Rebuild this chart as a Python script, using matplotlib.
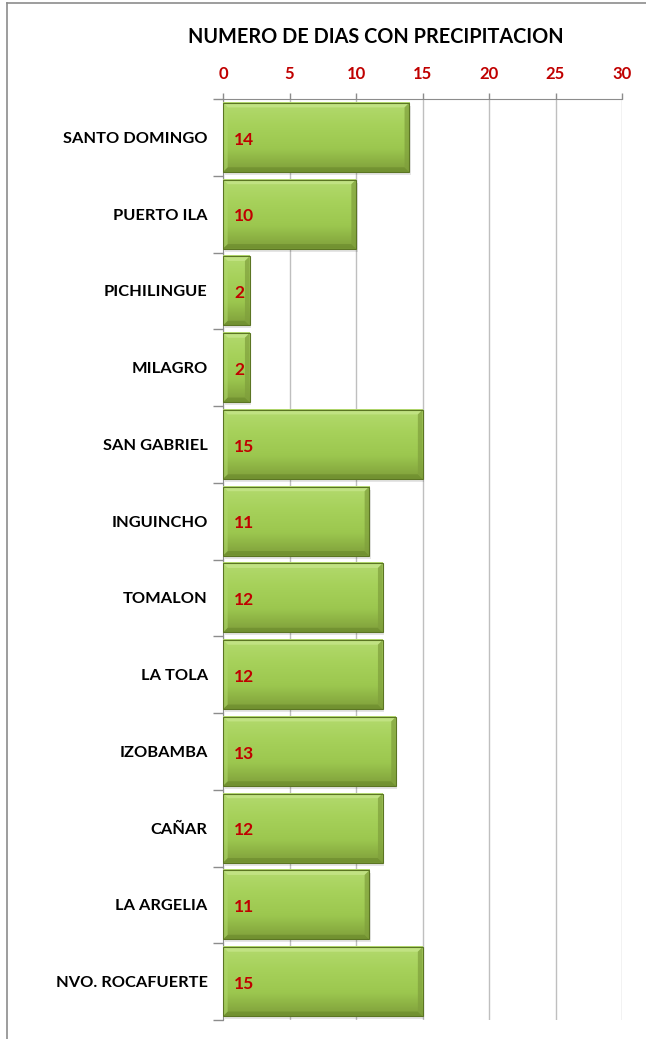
import numpy as np
import matplotlib.pyplot as plt
from matplotlib.patches import Rectangle, Polygon
from matplotlib.colors import LinearSegmentedColormap

# datos
estaciones = ['SANTO DOMINGO', 'PUERTO ILA', 'PICHILINGUE', 'MILAGRO', 'SAN GABRIEL',
              'INGUINCHO', 'TOMALON', 'LA TOLA', 'IZOBAMBA', 'CAÑAR', 'LA ARGELIA',
              'NVO. ROCAFUERTE']
dias = [14, 10, 2, 2, 15, 11, 12, 12, 13, 12, 11, 15]
ticks_x = [0, 5, 10, 15, 20, 25, 30]

plt.rcParams['font.family'] = ['Lato', 'DejaVu Sans']

fig = plt.figure(figsize=(6.46, 10.39), dpi=100)
ax = fig.add_axes([223 / 646, 1 - 1020 / 1039, 399 / 646, 921 / 1039])

# marco del grafico
fig.add_artist(plt.Line2D([7 / 646, 7 / 646], [0, 1 - 3 / 1039], color='#8c8c8c', lw=1.2))
fig.add_artist(plt.Line2D([7 / 646, 1], [1 - 3 / 1039, 1 - 3 / 1039], color='#8c8c8c', lw=1.2))

# degradado: claro arriba, oscuro abajo
verde = LinearSegmentedColormap.from_list('verde', ['#b3da6e', '#a6d15a', '#9cc74f', '#7f9f3a'])
grad = np.linspace(0, 1, 64).reshape(-1, 1)

alto = 0.9
bx = 0.35   # bisel horizontal (datos)
by = 0.06   # bisel vertical (categorias)
for i, v in enumerate(dias):
    y0 = i - alto / 2
    y1 = i + alto / 2
    # sombra
    ax.add_patch(Rectangle((0.12, y0 + 0.04), v, alto, facecolor='#000000', alpha=0.10,
                           edgecolor='none', zorder=2))
    ax.imshow(grad, extent=(0, v, y1, y0), origin='upper', cmap=verde, aspect='auto',
              zorder=3, interpolation='bicubic')
    b = min(bx, v / 4)
    ax.add_patch(Polygon([(0, y0), (v, y0), (v - b, y0 + by), (b, y0 + by)],
                         closed=True, facecolor='#c6e58a', edgecolor='none', alpha=0.8, zorder=4))
    ax.add_patch(Polygon([(0, y1), (v, y1), (v - b, y1 - by), (b, y1 - by)],
                         closed=True, facecolor='#6d8c2e', edgecolor='none', alpha=0.7, zorder=4))
    ax.add_patch(Polygon([(v, y0), (v, y1), (v - b, y1 - by), (v - b, y0 + by)],
                         closed=True, facecolor='#7f9f3c', edgecolor='none', alpha=0.7, zorder=4))
    ax.add_patch(Polygon([(0, y0), (0, y1), (b, y1 - by), (b, y0 + by)],
                         closed=True, facecolor='#b0d86c', edgecolor='none', alpha=0.6, zorder=4))
    ax.add_patch(Rectangle((0, y0), v, alto, facecolor='none', edgecolor='#5b7523',
                           lw=0.8, zorder=5))
    ax.text(0.85, i + 0.03, str(v), color='#c00000', fontsize=12.5, fontweight='bold',
            va='center', ha='left', zorder=6)

ax.set_xlim(0, 30)
ax.set_ylim(len(dias) - 0.5, -0.5)

ax.set_xticks(ticks_x)
ax.xaxis.tick_top()
ax.tick_params(axis='x', colors='#8c8c8c', length=4, width=1, pad=8, labelsize=12)
for lbl in ax.get_xticklabels():
    lbl.set_color('#c00000')
    lbl.set_fontweight('bold')

ax.set_yticks(range(len(estaciones)))
ax.set_yticklabels(estaciones, fontsize=11.8, fontweight='bold')
ax.tick_params(axis='y', length=0, pad=11)
ax.set_yticks(np.arange(-0.5, len(estaciones) + 0.5, 1), minor=True)
ax.tick_params(axis='y', which='minor', length=7, color='#8c8c8c', width=1)

ax.grid(axis='x', color='#bfbfbf', lw=1, zorder=0)
ax.set_axisbelow(True)
for s in ['right', 'bottom']:
    ax.spines[s].set_visible(False)
ax.spines['top'].set_color('#8c8c8c')
ax.spines['left'].set_color('#8c8c8c')

fig.text(376 / 646, 1 - 37 / 1039, 'NUMERO DE DIAS CON PRECIPITACION', ha='center',
         va='center', fontsize=14.3, fontweight='bold')

fig.savefig('out.png', dpi=100)
